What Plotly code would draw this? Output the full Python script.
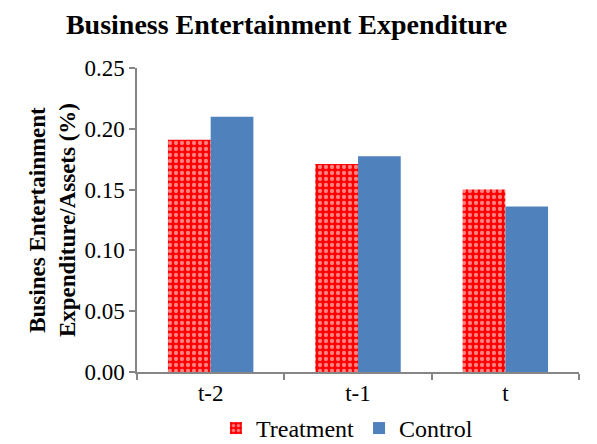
import plotly.graph_objects as go

# Period labels and mean values (% of assets)
periods = ["t-2", "t-1", "t"]
treatment = [0.191, 0.171, 0.150]
control = [0.210, 0.1775, 0.136]

y_ticks = [0.00, 0.05, 0.10, 0.15, 0.20, 0.25]
y_tick_text = ["0.00", "0.05", "0.10", "0.15", "0.20", "0.25"]

serif = "Liberation Serif"
axis_grey = "#868686"

fig = go.Figure()
fig.add_trace(go.Bar(
    name="Treatment", x=periods, y=treatment,
    marker=dict(
        color="#ff0000",
        line=dict(width=0),
        pattern=dict(shape=".", fgcolor="#ffffff", bgcolor="#ff0000",
                     size=6, solidity=0.4, fillmode="overlay"),
    ),
))
fig.add_trace(go.Bar(
    name="Control", x=periods, y=control,
    marker=dict(color="#4f81bd", line=dict(width=0)),
))

fig.update_layout(
    width=597, height=444,
    margin=dict(l=137, r=18, t=68, b=72, autoexpand=False),
    paper_bgcolor="white", plot_bgcolor="white",
    barmode="group", bargap=0.42, bargroupgap=0,
    font=dict(family=serif, color="#000000"),
    title=dict(text="<b>Business Entertainment Expenditure</b>",
               font=dict(family=serif, size=28, color="#000000"),
               x=0.48, xanchor="center", y=0.945, yanchor="middle"),
    showlegend=True,
    legend=dict(orientation="h", x=0.475, xanchor="center",
                yref="container", y=0.035, yanchor="middle",
                font=dict(family=serif, size=24), itemwidth=30,
                traceorder="normal"),
)
fig.update_xaxes(
    showline=True, linecolor=axis_grey, linewidth=1.5,
    ticks="outside", tickson="boundaries", ticklen=6, tickcolor=axis_grey, tickwidth=1.5,
    tickfont=dict(family=serif, size=23), showgrid=False,
)
fig.update_yaxes(
    range=[0, 0.25], tickvals=y_ticks, ticktext=y_tick_text,
    showline=True, linecolor=axis_grey, linewidth=1.5,
    ticks="outside", ticklen=6, tickcolor=axis_grey, tickwidth=1.5,
    tickfont=dict(family=serif, size=23), showgrid=False, zeroline=False,
    title=dict(text="<b>Busines Entertainment<br>Expenditure/Assets (%)</b>",
               font=dict(family=serif, size=23), standoff=2),
)

fig.write_html("out.html")
